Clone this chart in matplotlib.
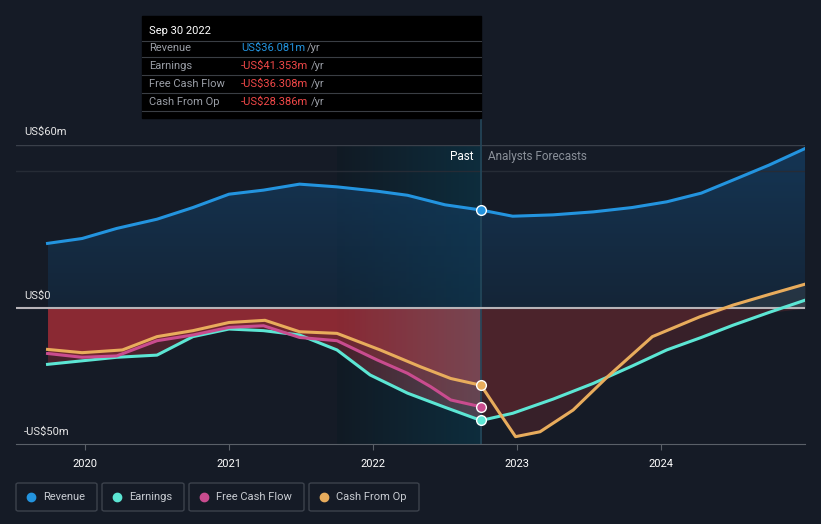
import matplotlib.pyplot as plt
import numpy as np
from matplotlib.patches import FancyBboxPatch, Rectangle
from matplotlib.lines import Line2D
from matplotlib.colors import LinearSegmentedColormap

plt.rcParams['font.family'] = ['Roboto', 'DejaVu Sans']

# values (US$ m)
rev_x = [2019.74, 2019.98, 2020.22, 2020.5, 2020.75, 2021.0, 2021.24, 2021.49, 2021.75, 2022.03, 2022.24, 2022.5, 2022.75]
rev_y = [23.8, 25.6, 29.3, 32.7, 37.0, 41.9, 43.4, 45.6, 44.6, 43.0, 41.5, 38.0, 36.08]
rev_fx = [2022.75, 2022.97, 2023.25, 2023.53, 2023.8, 2024.04, 2024.28, 2024.5, 2024.75, 2025.0]
rev_fy = [36.08, 33.8, 34.3, 35.4, 37.0, 39.1, 42.3, 47.1, 52.6, 58.7]

earn_x = [2019.74, 2020.22, 2020.5, 2020.75, 2021.0, 2021.24, 2021.49, 2021.75, 2021.98, 2022.24, 2022.5, 2022.75]
earn_y = [-20.7, -18.1, -17.3, -10.5, -7.7, -8.3, -9.9, -15.4, -24.6, -31.3, -36.5, -41.35]
earn_fx = [2022.75, 2022.97, 2023.25, 2023.53, 2023.8, 2024.04, 2024.28, 2024.5, 2024.75, 2025.0]
earn_fy = [-41.35, -38.7, -33.5, -27.7, -21.3, -15.4, -10.8, -6.3, -1.6, 2.9]

fcf_x = [2019.74, 2019.98, 2020.22, 2020.5, 2020.75, 2021.0, 2021.24, 2021.49, 2021.75, 2022.03, 2022.24, 2022.4, 2022.54, 2022.75]
fcf_y = [-16.7, -18.1, -17.6, -12.0, -9.9, -7.1, -6.5, -10.8, -12.0, -19.1, -24.0, -28.9, -33.8, -36.31]

cfo_x = [2019.74, 2019.98, 2020.26, 2020.5, 2020.75, 2021.0, 2021.25, 2021.49, 2021.75, 2022.05, 2022.33, 2022.54, 2022.75]
cfo_y = [-15.2, -16.4, -15.4, -10.5, -8.3, -5.3, -4.5, -8.7, -9.3, -15.4, -21.6, -25.9, -28.39]
cfo_fx = [2022.75, 2022.88, 2022.99, 2023.16, 2023.39, 2023.63, 2023.94, 2024.27, 2024.5, 2024.75, 2025.0]
cfo_fy = [-28.39, -38.7, -47.3, -45.5, -37.5, -25.2, -10.5, -3.2, 1.1, 5.0, 8.8]

years = [2020, 2021, 2022, 2023, 2024]
names = ['Revenue', 'Earnings', 'Free Cash Flow', 'Cash From Op']
colors = ['#2394df', '#5ce6d4', '#c94c8f', '#e8ac5c']

bg = '#151b26'
W, H = 821, 524
fig = plt.figure(figsize=(W / 100, H / 100), dpi=100, facecolor=bg)
ax = fig.add_axes([16 / W, 1 - 444 / H, 789 / W, 299 / H])
ax.set_facecolor(bg)
ax.set_xlim(2019.521, 2025.0)
ax.set_ylim(-50, 60)

# highlighted band (last year of past)
grad = np.linspace(0, 1, 256).reshape(1, -1)
band_cmap = LinearSegmentedColormap.from_list('band', ['#111a24', '#0d2d3d'])
ax.imshow(grad, extent=[2021.75, 2022.75, -50, 60], aspect='auto', cmap=band_cmap, zorder=0.5)

# revenue area with vertical gradient
rx = np.concatenate([rev_x, rev_fx[1:]])
ry = np.concatenate([rev_y, rev_fy[1:]])
poly = ax.fill_between(rx, 0, ry, color='none')
rev_cmap = LinearSegmentedColormap.from_list('rev', [(0.08, 0.22, 0.35, 0.35), (0.08, 0.25, 0.40, 0.75)])
im = ax.imshow(np.linspace(0, 1, 256).reshape(-1, 1), extent=[2019.74, 2025.0, 0, 60], origin='lower',
               aspect='auto', cmap=rev_cmap, zorder=1)
im.set_clip_path(poly.get_paths()[0], transform=ax.transData)

# negative areas
neg_polys = []
for xs, ys in [(cfo_x, cfo_y), (fcf_x, fcf_y), (earn_x, earn_y)]:
    neg_polys.append(ax.fill_between(xs, 0, ys, color='#c8323c', alpha=0.3, linewidth=0, zorder=1.2))
for xs, ys in [(cfo_fx, cfo_fy), (earn_fx, earn_fy)]:
    ys = np.array(ys)
    ax.fill_between(xs, 0, np.minimum(ys, 0), color='#6b2a30', alpha=0.4, linewidth=0, zorder=1.2)
    ax.fill_between(xs, 0, np.maximum(ys, 0), color='#8a8a80', alpha=0.15, linewidth=0, zorder=1.2)

# teal tint over the red part of the band
tint_cmap = LinearSegmentedColormap.from_list('tint', [(0.35, 0.45, 0.5, 0.0), (0.35, 0.45, 0.5, 0.35)])
tint = ax.imshow(grad, extent=[2021.75, 2022.75, -50, 0], aspect='auto', cmap=tint_cmap, zorder=1.3)
tint.set_clip_path(neg_polys[2].get_paths()[0], transform=ax.transData)

# grid / zero line
ax.axhline(60, color='#3a404a', lw=1, zorder=1.5)
ax.axhline(50.4, color='#262c36', lw=1, zorder=1.5)
ax.axhline(0, color='#b8b4b8', lw=1.5, zorder=3)
ax.axvline(2022.75, color='#24475a', lw=1.2, zorder=1.6, ymax=1.09, clip_on=False)

lw = 2.2
ax.plot(rev_x, rev_y, color=colors[0], lw=lw, zorder=4)
ax.plot(rev_fx, rev_fy, color=colors[0], lw=lw, zorder=4)
ax.plot(earn_x, earn_y, color=colors[1], lw=lw, zorder=4)
ax.plot(earn_fx, earn_fy, color=colors[1], lw=lw, zorder=4)
ax.plot(fcf_x, fcf_y, color=colors[2], lw=lw, zorder=4)
ax.plot(cfo_x, cfo_y, color=colors[3], lw=lw, zorder=4)
ax.plot(cfo_fx, cfo_fy, color=colors[3], lw=lw, zorder=4)
for v, c in zip([rev_y[-1], earn_y[-1], fcf_y[-1], cfo_y[-1]], colors):
    ax.plot([2022.75], [v], 'o', ms=7, mfc=c, mec='white', mew=1, zorder=5)

ax.text(2022.7, 55.7, 'Past', color='white', fontsize=8.5, ha='right', va='center', zorder=6)
ax.text(2022.8, 55.7, 'Analysts Forecasts', color='#8a9099', fontsize=8.5, ha='left', va='center', zorder=6)

for s in ax.spines.values():
    s.set_visible(False)
ax.spines['bottom'].set_visible(True)
ax.spines['bottom'].set_color('#5a6068')
ax.set_yticks([])
ax.set_xticks(years)
ax.set_xticklabels([str(y) for y in years], color='white', fontsize=8)
ax.tick_params(axis='x', colors='#5a6068', length=4, labelcolor='white', pad=7)


def fx(px):
    return px / W


def fy(py):
    return 1 - py / H


for label, py in [('US$60m', 132), ('US$0', 296), ('-US$50m', 432)]:
    fig.text(fx(24), fy(py), label, color='#e6e6e6', fontsize=8, va='center')

# tooltip
fig.patches.append(Rectangle((fx(142), fy(118)), fx(481) - fx(142), fy(16) - fy(118),
                             transform=fig.transFigure, color='black', zorder=10))
fig.text(fx(149), fy(31), 'Sep 30 2022', color='white', fontsize=8, va='center', zorder=11)
rows = [('Revenue', 'US$36.081m', colors[0], 303),
        ('Earnings', '-US$41.353m', '#f04848', 307),
        ('Free Cash Flow', '-US$36.308m', '#f04848', 307),
        ('Cash From Op', '-US$28.386m', '#f04848', 307)]
for i, (lab, val, c, endx) in enumerate(rows):
    py = 48 + i * 18
    fig.text(fx(149), fy(py), lab, color='#9a9ea6', fontsize=8, va='center', zorder=11)
    fig.text(fx(241), fy(py), val, color=c, fontsize=8, va='center', zorder=11)
    fig.text(fx(endx + 4), fy(py), '/yr', color='#9a9ea6', fontsize=8, va='center', zorder=11)
for py in [41, 57, 75, 93, 111]:
    fig.add_artist(Line2D([fx(142), fx(481)], [fy(py), fy(py)], color='#3a3e44', lw=0.8, zorder=11))

# legend
boxes = [(16, 97), (102, 184), (189, 304), (309, 419)]
for (x0, x1), name, c in zip(boxes, names, colors):
    fig.patches.append(FancyBboxPatch((fx(x0), fy(511)), fx(x1) - fx(x0), fy(483) - fy(511),
                                      boxstyle='round,pad=0,rounding_size=0.003',
                                      transform=fig.transFigure, fc='none', ec='#3c424c', lw=1))
    fig.add_artist(Line2D([fx(x0 + 15)], [fy(497)], marker='o', ms=6, color=c, mec=c))
    fig.text(fx(x0 + 27), fy(497), name, color='#c8ccd2', fontsize=8, va='center')

fig.savefig('out.png', dpi=100, facecolor=bg)
